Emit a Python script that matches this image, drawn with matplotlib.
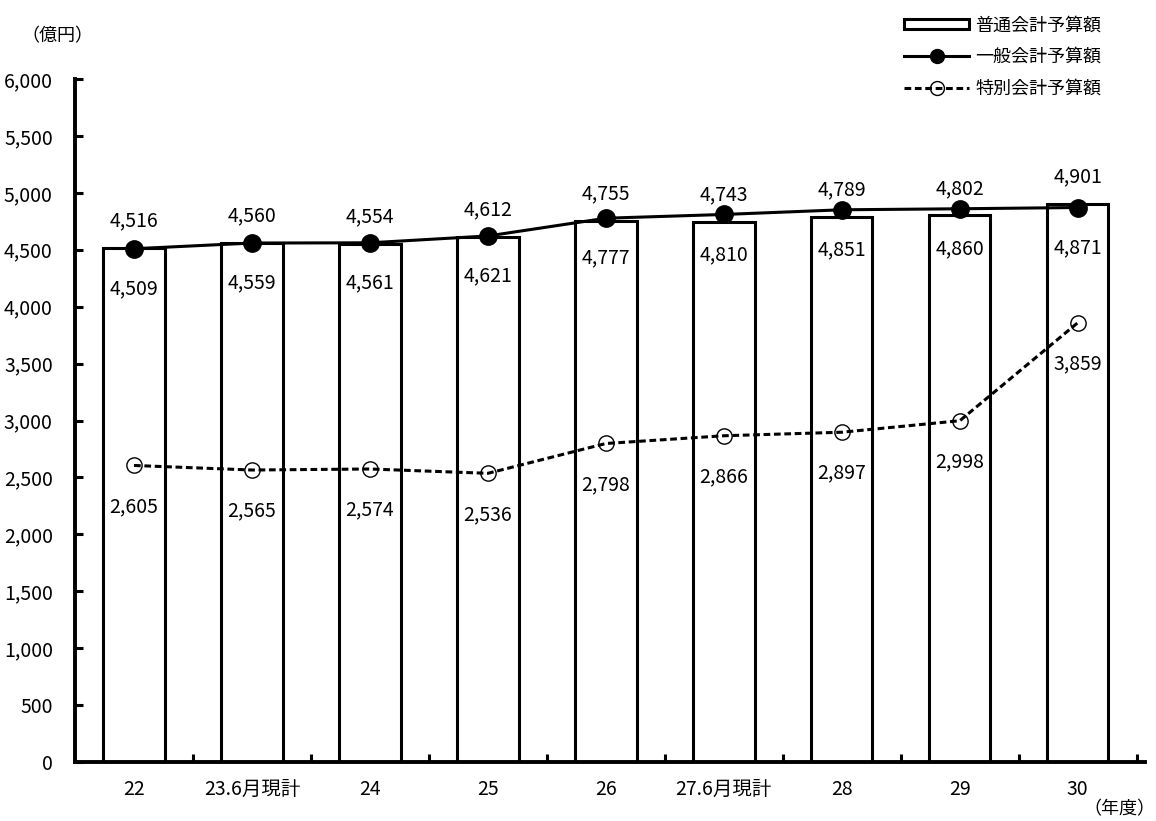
import numpy as np
import matplotlib.pyplot as plt
from matplotlib.lines import Line2D
from matplotlib.patches import Patch

plt.rcParams['font.family'] = ['Noto Sans CJK JP', 'DejaVu Sans']

# 年度
years = ['22', '23.6月現計', '24', '25', '26', '27.6月現計', '28', '29', '30']
# 普通会計予算額 (億円)
futsu = [4516, 4560, 4554, 4612, 4755, 4743, 4789, 4802, 4901]
# 一般会計予算額 (億円)
ippan = [4509, 4559, 4561, 4621, 4777, 4810, 4851, 4860, 4871]
# 特別会計予算額 (億円)
tokubetsu = [2605, 2565, 2574, 2536, 2798, 2866, 2897, 2998, 3859]

x = np.arange(len(years))
px = 0.72  # ピクセル -> ポイント

fig = plt.figure(figsize=(11.56, 8.21), dpi=100)
ax = fig.add_axes([75 / 1156, 59 / 821, 1070 / 1156, 683 / 821])

ax.bar(x, futsu, width=0.52, color='white', edgecolor='black', linewidth=2.2, zorder=1)
ax.plot(x, ippan, color='black', linewidth=2.2, marker='o', markersize=12.5, zorder=3)
ax.plot(x, tokubetsu, color='black', linewidth=2.2, linestyle=(0, (2.2, 1.2)),
        marker='o', markersize=11, markerfacecolor='none', markeredgewidth=1.0, zorder=3)

fs = 14
for i in range(len(x)):
    ax.annotate(f'{futsu[i]:,}', (x[i], futsu[i]), xytext=(0, 27 * px),
                textcoords='offset points', ha='center', va='center', fontsize=fs)
    ax.annotate(f'{ippan[i]:,}', (x[i], ippan[i]), xytext=(0, -40 * px),
                textcoords='offset points', ha='center', va='center', fontsize=fs)
    ax.annotate(f'{tokubetsu[i]:,}', (x[i], tokubetsu[i]), xytext=(0, -41 * px),
                textcoords='offset points', ha='center', va='center', fontsize=fs)

ax.set_xlim(-0.5, 8.57)
ax.set_ylim(0, 6000)
ax.set_yticks(np.arange(0, 6001, 500))
ax.set_yticklabels([f'{v:,}' for v in range(0, 6001, 500)], fontsize=fs)
ax.set_xticks(x)
ax.set_xticklabels(years, fontsize=fs)
ax.set_xticks(np.arange(0.5, 8.6, 1), minor=True)
ax.tick_params(axis='x', which='major', length=0, pad=12)
ax.tick_params(axis='x', which='minor', direction='in', length=6, width=2.2)
ax.tick_params(axis='y', direction='in', length=6, width=2.2, pad=16)
for s in ['top', 'right']:
    ax.spines[s].set_visible(False)
for s in ['left', 'bottom']:
    ax.spines[s].set_linewidth(2.8)

fig.text(57 / 1156, 1 - 36 / 821, '（億円）', ha='center', va='center', fontsize=13)
fig.text(1155 / 1156, 1 - 809 / 821, '（年度）', ha='right', va='center', fontsize=13)

handles = [
    Patch(facecolor='white', edgecolor='black', linewidth=2.2),
    Line2D([], [], color='black', linewidth=2.2, marker='o', markersize=10),
    Line2D([], [], color='black', linewidth=2.2, linestyle=(0, (2.2, 1.2)), marker='o',
           markersize=10, markerfacecolor='none', markeredgewidth=1.0),
]
labels = ['普通会計予算額', '一般会計予算額', '特別会計予算額']
fig.legend(handles, labels, loc='upper left', bbox_to_anchor=(888 / 1156, 1 - 0 / 821),
           frameon=False, fontsize=13, handlelength=3.6, handleheight=0.45,
           handletextpad=0.35, labelspacing=0.75)

fig.savefig('out.png', dpi=100)
